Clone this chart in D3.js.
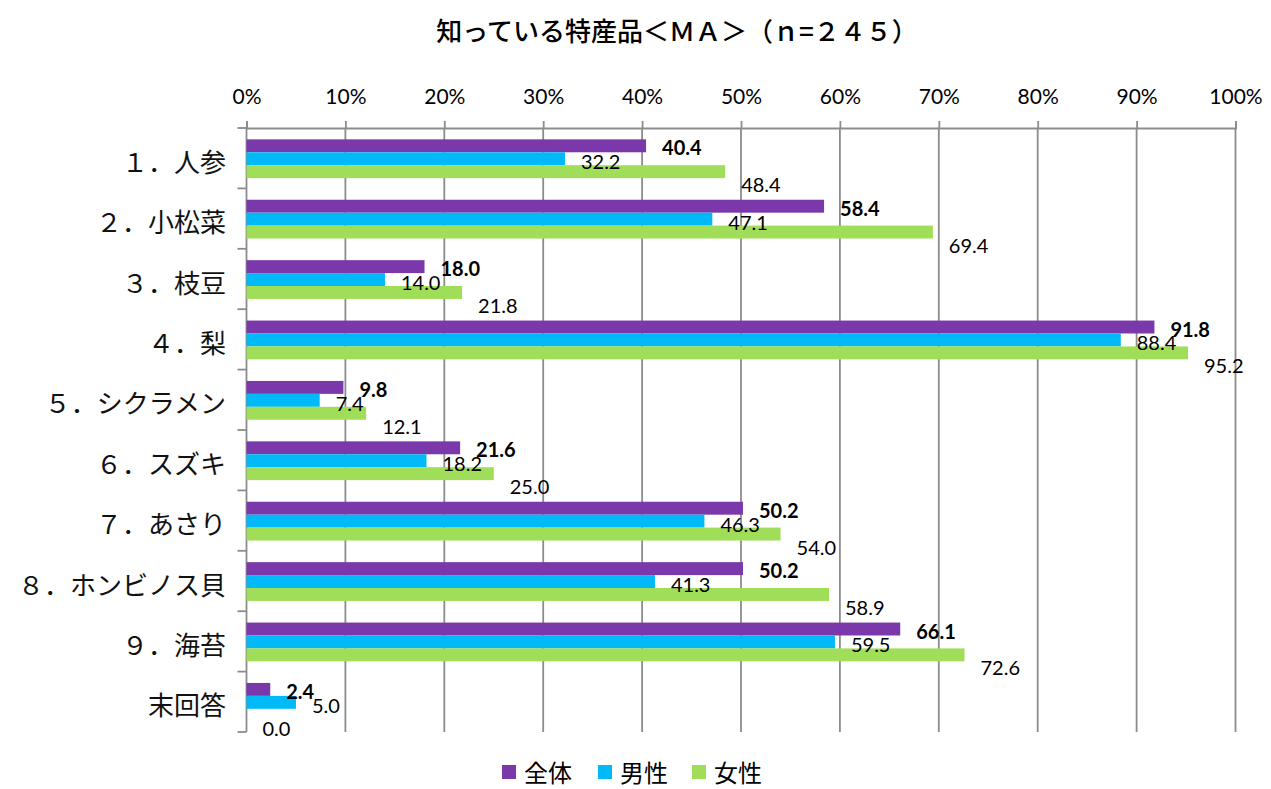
<!DOCTYPE html>
<html>
<head>
<meta charset="utf-8">
<script src="https://cdn.jsdelivr.net/npm/d3@7"></script>
<style>
  html, body { margin: 0; padding: 0; background: #fff; }
  svg { display: block; }
</style>
</head>
<body>
<svg id="chart" width="1271" height="789"></svg>
<script>
const categories = ["１．人参", "２．小松菜", "３．枝豆", "４．梨", "５．シクラメン", "６．スズキ", "７．あさり", "８．ホンビノス貝", "９．海苔", "末回答"];
const seriesNames = ["全体", "男性", "女性"];
const totalValues = [40.4, 58.4, 18.0, 91.8, 9.8, 21.6, 50.2, 50.2, 66.1, 2.4];
const maleValues = [32.2, 47.1, 14.0, 88.4, 7.4, 18.2, 46.3, 41.3, 59.5, 5.0];
const femaleValues = [48.4, 69.4, 21.8, 95.2, 12.1, 25.0, 54.0, 58.9, 72.6, 0.0];
const tickValues = [0, 10, 20, 30, 40, 50, 60, 70, 80, 90, 100];
const titleText = "知っている特産品＜ＭＡ＞（ｎ=２４５）";

(function () {
const colors = ["#7B38AA", "#00BAF8", "#A0DD58"];
const seriesValues = [totalValues, maleValues, femaleValues];

const svg = d3.select("#chart");
const pLeft = 246.5, pRight = 1235.5, pTop = 128, pBottom = 732;
const gridColor = "#8c8c8c";
const latin = "Lato, 'Open Sans', sans-serif";
const cjk = "'Noto Sans CJK JP', 'Noto Sans', sans-serif";

const x = d3.scaleLinear().domain([0, 100]).range([pLeft, pRight]);
const y = d3.scaleBand().domain(categories).range([pTop, pBottom]).padding(0);
const step = y.step();
const yInner = d3.scaleBand().domain(seriesNames).range([step * 0.188, step * 0.83]).padding(0);

// title
svg.append("text")
  .attr("x", 677).attr("y", 29)
  .attr("text-anchor", "middle").attr("dominant-baseline", "central")
  .attr("font-family", cjk).attr("font-size", 26).attr("font-weight", 500)
  .attr("fill", "#000")
  .text(titleText);

// gridlines
svg.append("g").selectAll("line")
  .data(tickValues.slice(1))
  .join("line")
  .attr("x1", d => x(d)).attr("x2", d => x(d))
  .attr("y1", pTop).attr("y2", pBottom)
  .attr("stroke", gridColor).attr("stroke-width", 1.8);

// top axis
const xAxis = d3.axisTop(x).tickValues(tickValues).tickFormat(d => d + "%").tickSize(7).tickPadding(17);
const gx = svg.append("g").attr("transform", `translate(0,${pTop})`).call(xAxis);
gx.select(".domain").attr("stroke", gridColor).attr("stroke-width", 1.8);
gx.selectAll(".tick line").attr("stroke", gridColor).attr("stroke-width", 1.8);
gx.selectAll(".tick text")
  .attr("font-family", latin).attr("font-size", 21).attr("fill", "#000");

// left axis line and boundary ticks
svg.append("line")
  .attr("x1", pLeft).attr("x2", pLeft).attr("y1", pTop).attr("y2", pBottom)
  .attr("stroke", gridColor).attr("stroke-width", 1.8);
const boundaries = categories.map(c => y(c)).concat([y(categories[categories.length - 1]) + step]);
svg.append("g").selectAll("line")
  .data(boundaries)
  .join("line")
  .attr("x1", pLeft - 9).attr("x2", pLeft)
  .attr("y1", d => d).attr("y2", d => d)
  .attr("stroke", gridColor).attr("stroke-width", 1.8);

// category labels
svg.append("g").selectAll("text")
  .data(categories)
  .join("text")
  .attr("x", 226)
  .attr("y", d => y(d) + step / 2 + 2)
  .attr("text-anchor", "end").attr("dominant-baseline", "central")
  .attr("font-family", cjk).attr("font-size", 26).attr("fill", "#111")
  .text(d => d);

// bars
const barData = [];
categories.forEach((c, i) => {
  seriesNames.forEach((s, j) => {
    barData.push({ cat: c, series: s, si: j, value: seriesValues[j][i] });
  });
});

svg.append("g").selectAll("rect")
  .data(barData)
  .join("rect")
  .attr("x", x(0))
  .attr("y", d => y(d.cat) + yInner(d.series))
  .attr("width", d => x(d.value) - x(0))
  .attr("height", yInner.bandwidth())
  .attr("fill", d => colors[d.si]);

// value labels
const dyOffsets = [1.5, 2.5, 12.5];
svg.append("g").selectAll("text")
  .data(barData)
  .join("text")
  .attr("x", d => x(d.value) + 16)
  .attr("y", d => y(d.cat) + yInner(d.series) + yInner.bandwidth() / 2 + dyOffsets[d.si])
  .attr("dominant-baseline", "central")
  .attr("font-family", latin)
  .attr("font-size", 20)
  .attr("font-weight", d => d.si === 0 ? "bold" : "normal")
  .attr("fill", "#000")
  .text(d => d.value.toFixed(1));

// legend
const legendItems = [
  { name: seriesNames[0], color: colors[0], x: 502 },
  { name: seriesNames[1], color: colors[1], x: 598 },
  { name: seriesNames[2], color: colors[2], x: 692 }
];
const lg = svg.append("g");
lg.selectAll("rect")
  .data(legendItems)
  .join("rect")
  .attr("x", d => d.x).attr("y", 765)
  .attr("width", 14).attr("height", 14)
  .attr("fill", d => d.color);
lg.selectAll("text")
  .data(legendItems)
  .join("text")
  .attr("x", d => d.x + 22).attr("y", 771)
  .attr("dominant-baseline", "central")
  .attr("font-family", cjk).attr("font-size", 24).attr("fill", "#000")
  .text(d => d.name);
})();
</script>
</body>
</html>
